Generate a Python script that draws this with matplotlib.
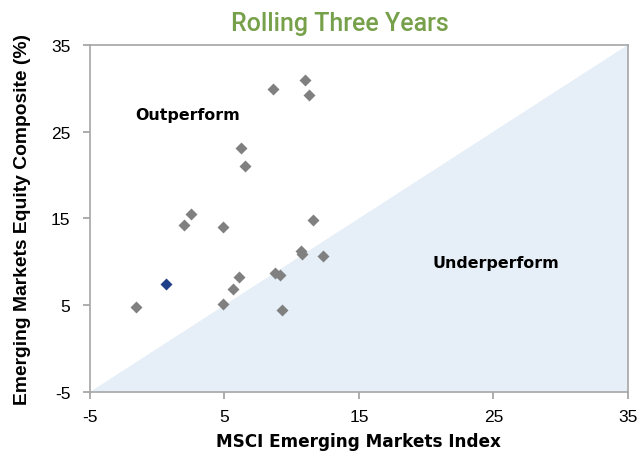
import matplotlib
matplotlib.use('Agg')
import matplotlib.pyplot as plt

# MSCI EM index (x) vs composite (y), rolling three years, %
index_ret = [-1.6, 0.65, 2.0, 2.5, 4.9, 4.9, 5.65, 6.1, 6.2, 6.5,
             8.6, 8.8, 9.15, 9.25, 10.7, 10.75, 11.0, 11.3, 11.6, 12.35]
composite_ret = [4.8, 7.5, 14.2, 15.5, 14.0, 5.1, 6.9, 8.3, 23.1, 21.1,
                 29.9, 8.75, 8.5, 4.4, 11.25, 10.85, 31.0, 29.2, 14.8, 10.7]
highlight = 1  # the latest period, in navy

ticks = [-5, 5, 15, 25, 35]
lo, hi = -5, 35

plt.rcParams['font.family'] = ['Liberation Sans', 'DejaVu Sans']
plt.rcParams['axes.unicode_minus'] = False

fig = plt.figure(figsize=(6.42, 4.52), dpi=100)
ax = fig.add_axes([0.140, 0.1305, 0.838, 0.768])

# underperform area below the diagonal
ax.fill([lo, hi, hi], [lo, hi, lo], color='#e6eff8', zorder=0, lw=0)

gx = [v for i, v in enumerate(index_ret) if i != highlight]
gy = [v for i, v in enumerate(composite_ret) if i != highlight]
ax.plot(gx, gy, 'D', ms=6.3, color='#808080', mec='none', zorder=3)
ax.plot(index_ret[highlight], composite_ret[highlight], 'D', ms=6.3,
        color='#1f3f88', mec='none', zorder=4)

ax.set_xlim(lo, hi)
ax.set_ylim(lo, hi)
ax.set_xticks(ticks)
ax.set_yticks(ticks)
ax.tick_params(labelsize=12.5, color='#a0a0a0', length=5, width=1.2)
ax.tick_params(axis='x', pad=7)
ax.tick_params(axis='y', pad=9)
for s in ax.spines.values():
    s.set_color('#a6a6a6')
    s.set_linewidth(1.2)

bold = dict(fontweight='bold', family=['DejaVu Sans'])
ax.text(-1.63, 27.0, 'Outperform', fontsize=11.4, va='center', **bold)
ax.text(20.45, 9.9, 'Underperform', fontsize=11.4, va='center', **bold)

ax.set_xlabel('MSCI Emerging Markets Index', fontsize=12.2, labelpad=6, **bold)
ax.set_ylabel('Emerging Markets Equity Composite (%)', fontsize=13.9,
              fontweight='bold', labelpad=14)
fig.text(0.53, 0.947, 'Rolling Three Years', ha='center', va='center',
         fontsize=18, fontweight='medium', color='#77a04a',
         family=['Roboto', 'DejaVu Sans'])

fig.savefig('out.png', dpi=100)
